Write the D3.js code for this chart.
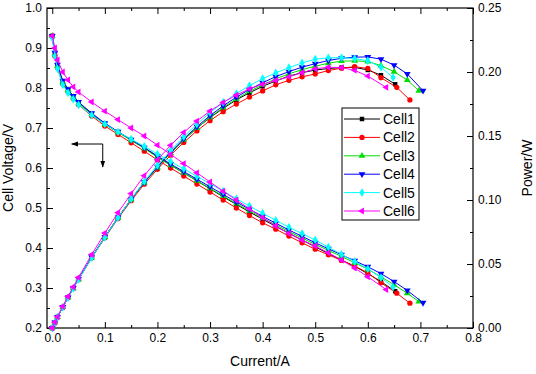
<!DOCTYPE html>
<html>
<head>
<meta charset="utf-8">
<script src="https://cdn.jsdelivr.net/npm/d3@7"></script>
<style>
  body { margin: 0; background: #fff; }
  svg { display: block; font-family: "Liberation Sans", Arial, sans-serif; }
  .tick text { font-size: 12px; fill: #000; }
  .axis-label { font-size: 14px; fill: #000; }
  .legend text { font-size: 14px; fill: #000; }
</style>
</head>
<body>
<svg id="chart"></svg>
<script>
// current grid shared by all cells (A)
const currentBase = [0, 0.005, 0.01, 0.02, 0.03, 0.04, 0.05, 0.075, 0.1, 0.125, 0.15, 0.175, 0.2, 0.225,
  0.25, 0.275, 0.3, 0.325, 0.35, 0.375, 0.4, 0.425, 0.45, 0.475, 0.5, 0.525, 0.55, 0.575, 0.6];

// extra points at the end of each curve
const tail1 = [0.625, 0.652];
const tail2 = [0.625, 0.655, 0.68];
const tail3 = [0.625, 0.65, 0.675, 0.697];
const tail4 = [0.625, 0.65, 0.675, 0.705];
const tail5 = [0.625, 0.648];
const tail6 = [0.635];

// cell voltage (V)
const voltage1 = [0.93, 0.885, 0.855, 0.815, 0.795, 0.778, 0.763, 0.735, 0.71, 0.69, 0.67, 0.65, 0.628, 0.607,
  0.588, 0.568, 0.548, 0.528, 0.509, 0.49, 0.472, 0.454, 0.437, 0.42, 0.403, 0.386, 0.37, 0.354, 0.336, 0.316, 0.292];
const voltage2 = [0.93, 0.88, 0.85, 0.81, 0.79, 0.773, 0.758, 0.73, 0.705, 0.684, 0.663, 0.642, 0.62, 0.6,
  0.58, 0.56, 0.54, 0.52, 0.5, 0.481, 0.463, 0.447, 0.43, 0.413, 0.397, 0.383, 0.369, 0.355, 0.338, 0.313, 0.287, 0.262];
const voltage3 = [0.93, 0.885, 0.855, 0.815, 0.795, 0.777, 0.762, 0.734, 0.709, 0.689, 0.669, 0.649, 0.627, 0.607,
  0.588, 0.568, 0.549, 0.53, 0.511, 0.493, 0.475, 0.458, 0.441, 0.425, 0.409, 0.394, 0.379, 0.363, 0.347, 0.328, 0.308, 0.287, 0.266];
const voltage4 = [0.93, 0.888, 0.858, 0.818, 0.797, 0.78, 0.765, 0.737, 0.712, 0.691, 0.671, 0.651, 0.63, 0.61,
  0.591, 0.572, 0.553, 0.534, 0.515, 0.497, 0.479, 0.462, 0.445, 0.429, 0.413, 0.398, 0.383, 0.368, 0.353, 0.336, 0.316, 0.294, 0.263];
const voltage5 = [0.925, 0.88, 0.848, 0.808, 0.788, 0.772, 0.758, 0.732, 0.71, 0.69, 0.672, 0.654, 0.635, 0.616,
  0.598, 0.579, 0.561, 0.542, 0.523, 0.505, 0.487, 0.469, 0.452, 0.436, 0.42, 0.402, 0.384, 0.366, 0.348, 0.326, 0.302];
const voltage6 = [0.93, 0.9, 0.87, 0.84, 0.82, 0.803, 0.79, 0.765, 0.742, 0.721, 0.7, 0.68, 0.657, 0.634,
  0.611, 0.588, 0.565, 0.542, 0.52, 0.498, 0.476, 0.455, 0.436, 0.42, 0.405, 0.388, 0.37, 0.35, 0.328, 0.296];

// power (W)
const power1 = [0, 0.0044, 0.0086, 0.0163, 0.0239, 0.0311, 0.0382, 0.0551, 0.071, 0.0863, 0.1005, 0.1138, 0.1256, 0.1366,
  0.147, 0.1562, 0.1644, 0.1716, 0.1782, 0.1838, 0.1888, 0.193, 0.1967, 0.1995, 0.2015, 0.2027, 0.2035, 0.2036, 0.2016, 0.1975, 0.1904];
const power2 = [0, 0.0044, 0.0085, 0.0162, 0.0237, 0.0309, 0.0379, 0.0548, 0.0705, 0.0855, 0.0995, 0.1124, 0.124, 0.135,
  0.145, 0.154, 0.162, 0.169, 0.175, 0.1804, 0.1852, 0.19, 0.1935, 0.1962, 0.1985, 0.2011, 0.203, 0.2041, 0.2028, 0.1956, 0.188, 0.1782];
const power3 = [0, 0.0044, 0.0086, 0.0163, 0.0239, 0.0311, 0.0381, 0.0551, 0.0709, 0.0861, 0.1004, 0.1136, 0.1254, 0.1366,
  0.147, 0.1562, 0.1647, 0.1723, 0.1789, 0.1849, 0.19, 0.1947, 0.1985, 0.2019, 0.2045, 0.2069, 0.2085, 0.2087, 0.2082, 0.205, 0.2002, 0.1937, 0.1854];
const power4 = [0, 0.0044, 0.0086, 0.0164, 0.0239, 0.0312, 0.0383, 0.0553, 0.0712, 0.0864, 0.1007, 0.1139, 0.126, 0.1373,
  0.1478, 0.1573, 0.1659, 0.1736, 0.1803, 0.1864, 0.1916, 0.1964, 0.2003, 0.2038, 0.2065, 0.209, 0.2107, 0.2116, 0.2118, 0.21, 0.2054, 0.1985, 0.1854];
const power5 = [0, 0.0044, 0.0085, 0.0162, 0.0236, 0.0309, 0.0379, 0.0549, 0.071, 0.0863, 0.1008, 0.1145, 0.127, 0.1386,
  0.1495, 0.1592, 0.1683, 0.1762, 0.1831, 0.1894, 0.1948, 0.1993, 0.2034, 0.2071, 0.21, 0.2111, 0.2112, 0.2105, 0.2088, 0.2038, 0.1957];
const power6 = [0, 0.0045, 0.0087, 0.0168, 0.0246, 0.0321, 0.0395, 0.0574, 0.0742, 0.0901, 0.105, 0.119, 0.1314, 0.1427,
  0.1528, 0.1617, 0.1695, 0.1762, 0.182, 0.1868, 0.1904, 0.1934, 0.1962, 0.1995, 0.2025, 0.2037, 0.2035, 0.2013, 0.1968, 0.188];

const cellNames = ["Cell1", "Cell2", "Cell3", "Cell4", "Cell5", "Cell6"];
const cellColors = ["#000000", "#ff0000", "#00dd00", "#0000ff", "#00ffff", "#ff00ff"];

const xTicks = [0, 0.1, 0.2, 0.3, 0.4, 0.5, 0.6, 0.7, 0.8];
const yLeftTicks = [0.2, 0.3, 0.4, 0.5, 0.6, 0.7, 0.8, 0.9, 1.0];
const yRightTicks = [0, 0.05, 0.1, 0.15, 0.2, 0.25];

const tails = [tail1, tail2, tail3, tail4, tail5, tail6];
const voltages = [voltage1, voltage2, voltage3, voltage4, voltage5, voltage6];
const powers = [power1, power2, power3, power4, power5, power6];

const cells = cellNames.map((name, i) => {
  const current = currentBase.concat(tails[i]);
  return {
    name: name,
    color: cellColors[i],
    voltage: current.map((c, j) => ({x: c, y: voltages[i][j]})),
    power: current.map((c, j) => ({x: c, y: powers[i][j]}))
  };
});

const width = 536, height = 374;
const margin = {top: 8, right: 63, bottom: 46, left: 47};

const svg = d3.select("#chart").attr("width", width).attr("height", height);

const xScale = d3.scaleLinear().domain([-0.01, 0.8]).range([margin.left, width - margin.right]);
const yLeft = d3.scaleLinear().domain([0.2, 1.0]).range([height - margin.bottom, margin.top]);
const yRight = d3.scaleLinear().domain([0, 0.25]).range([height - margin.bottom, margin.top]);

// symbols: square, circle, up triangle, down triangle, diamond, left triangle
const symbolTypes = [d3.symbolSquare, d3.symbolCircle, d3.symbolTriangle, d3.symbolTriangle, d3.symbolDiamond, d3.symbolTriangle];
const symbolRot = [0, 0, 0, 180, 0, -90];
const symbolSizes = [20, 22, 20, 20, 22, 20];

// minor + major axes, ticks pointing inside
function drawAxis(axisFn, scale, major, minor, fmt, transform) {
  svg.append("g")
    .attr("transform", transform)
    .call(axisFn(scale).tickValues(minor).tickSize(-3).tickFormat(""))
    .call(g => g.select(".domain").remove());
  const g = svg.append("g")
    .attr("transform", transform)
    .call(axisFn(scale).tickValues(major).tickSize(-6).tickPadding(5).tickFormat(fmt));
  g.select(".domain").remove();
  return g;
}

const xMinor = d3.range(0.05, 0.8, 0.1);
drawAxis(d3.axisBottom, xScale, xTicks, xMinor, d3.format(".1f"), `translate(0,${height - margin.bottom})`);
drawAxis(d3.axisTop, xScale, xTicks, xMinor, () => "", `translate(0,${margin.top})`)
  .selectAll("text").remove();
drawAxis(d3.axisLeft, yLeft, yLeftTicks, d3.range(0.25, 1.0, 0.1), d3.format(".1f"), `translate(${margin.left},0)`);
drawAxis(d3.axisRight, yRight, yRightTicks, d3.range(0.025, 0.25, 0.05), d3.format(".2f"), `translate(${width - margin.right},0)`);

// frame
svg.append("rect")
  .attr("x", margin.left).attr("y", margin.top)
  .attr("width", width - margin.left - margin.right)
  .attr("height", height - margin.top - margin.bottom)
  .attr("fill", "none").attr("stroke", "#000").attr("stroke-width", 1.2);

const plot = svg.append("g");

const vLine = d3.line().x(d => xScale(d.x)).y(d => yLeft(d.y));
const pLine = d3.line().x(d => xScale(d.x)).y(d => yRight(d.y));

cells.forEach((cell, i) => {
  const sym = d3.symbol().type(symbolTypes[i]).size(symbolSizes[i]);
  [[cell.voltage, vLine, yLeft], [cell.power, pLine, yRight]].forEach(([pts, line, yS]) => {
    plot.append("path")
      .datum(pts)
      .attr("d", line)
      .attr("fill", "none")
      .attr("stroke", cell.color)
      .attr("stroke-width", 1);
    plot.selectAll(null)
      .data(pts)
      .join("path")
      .attr("d", sym)
      .attr("fill", cell.color)
      .attr("transform", d => `translate(${xScale(d.x)},${yS(d.y)}) rotate(${symbolRot[i]})`);
  });
});

// arrow annotation pointing to left axis
const arrowCorner = {x: 0.096, y: 0.66};
const arrowLeftEnd = 0.037;
const arrowDownEnd = 0.6025;
svg.append("defs").append("marker")
  .attr("id", "head").attr("viewBox", "0 0 10 10")
  .attr("refX", 9).attr("refY", 5)
  .attr("markerWidth", 7).attr("markerHeight", 7)
  .attr("orient", "auto-start-reverse")
  .append("path").attr("d", "M0,1.5 L10,5 L0,8.5 Z").attr("fill", "#000");
svg.append("path")
  .attr("d", `M${xScale(arrowLeftEnd)},${yLeft(arrowCorner.y)} L${xScale(arrowCorner.x)},${yLeft(arrowCorner.y)} L${xScale(arrowCorner.x)},${yLeft(arrowDownEnd)}`)
  .attr("fill", "none").attr("stroke", "#000").attr("stroke-width", 1)
  .attr("marker-start", "url(#head)")
  .attr("marker-end", "url(#head)");

// axis titles
svg.append("text").attr("class", "axis-label")
  .attr("x", (margin.left + width - margin.right) / 2).attr("y", 366)
  .attr("text-anchor", "middle").text("Current/A");
svg.append("text").attr("class", "axis-label")
  .attr("transform", `translate(13,${(margin.top + height - margin.bottom) / 2}) rotate(-90)`)
  .attr("text-anchor", "middle").text("Cell Voltage/V");
svg.append("text").attr("class", "axis-label")
  .attr("transform", `translate(532,${(margin.top + height - margin.bottom) / 2}) rotate(-90)`)
  .attr("text-anchor", "middle").text("Power/W");

// legend
const legend = svg.append("g").attr("class", "legend").attr("transform", "translate(342,108)");
legend.append("rect")
  .attr("width", 77).attr("height", 112)
  .attr("fill", "#fff").attr("stroke", "#000").attr("stroke-width", 1);
cells.forEach((cell, i) => {
  const row = legend.append("g").attr("transform", `translate(0,${11 + i * 18.4})`);
  row.append("line").attr("x1", 2).attr("x2", 38).attr("y1", 0).attr("y2", 0)
    .attr("stroke", cell.color).attr("stroke-width", 1);
  row.append("path")
    .attr("d", d3.symbol().type(symbolTypes[i]).size(symbolSizes[i]))
    .attr("transform", `translate(20,0) rotate(${symbolRot[i]})`)
    .attr("fill", cell.color);
  row.append("text").attr("x", 41).attr("y", 5).text(cell.name);
});
</script>
</body>
</html>
